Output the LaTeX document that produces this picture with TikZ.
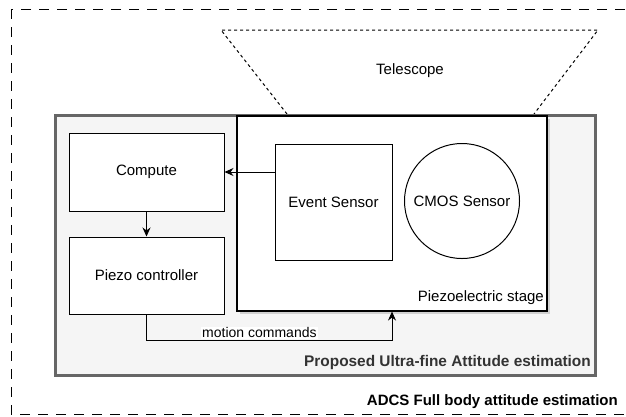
\documentclass[tikz,border=0pt]{standalone}
\usepackage{fontspec}
\setmainfont{Liberation Sans}
\usetikzlibrary{arrows.meta,shadows}
\definecolor{framegray}{HTML}{666666}
\definecolor{panelfill}{HTML}{F5F5F5}
\definecolor{titlegray}{HTML}{333333}

\begin{document}
\begin{tikzpicture}[x=1pt, y=-1pt, >={Stealth[length=9pt,width=8pt]}]
	\tikzstyle{every node} = [font=\fontsize{15}{18}\selectfont, inner sep=0pt]
	\tikzstyle{block}      = [rectangle, draw, line width=1pt, fill=white, minimum width=155pt, minimum height=78pt]
	\useasboundingbox (0,0) rectangle (626,416);
	\clip (0,0) rectangle (626,416);
	% outer ADCS frame, runs off the right edge
	\draw [line width=1pt, dash pattern=on 10pt off 8pt] (11,9) rectangle (660,414);
	\node (adcs) [anchor=east, font=\fontsize{15}{18}\selectfont\bfseries] at (618,402) {ADCS Full body attitude estimation};
	% telescope
	\coordinate (tbl) at (287,114);
	\coordinate (ttl) at (221,30);
	\coordinate (ttr) at (598,30);
	\coordinate (tbr) at (534,114);
	\draw [line width=1pt, dash pattern=on 3pt off 3pt] (tbl) -- (ttl) -- (ttr) -- (tbr);
	\node (tele) at (410,71) {Telescope};
	% proposed system
	\node (ultra) [rectangle, draw=framegray, line width=3pt, fill=panelfill, minimum width=540pt, minimum height=260pt] at (325.5,245.5) {};
	\node (ultralbl) [anchor=east, text=titlegray, font=\fontsize{15.4}{18}\selectfont\bfseries] at (591,363) {Proposed Ultra-fine Attitude estimation};
	\node (stage) [rectangle, draw, line width=1.1pt, fill=white, minimum width=310pt, minimum height=195pt,
		drop shadow={shadow xshift=3pt, shadow yshift=-3pt, fill=black!18, opacity=1}] at (392,213.5) {};
	\node (stagelbl) [anchor=east] at (544,298) {Piezoelectric stage};
	\node (event) [block, minimum width=117pt, minimum height=116pt] at (333.5,202) {Event Sensor};
	\node (cmos)  [circle, draw, line width=1pt, minimum size=115pt] at (462,201) {CMOS Sensor};
	\node (comp)  [block] at (146.5,172) {Compute};
	\node (piezo) [block, minimum height=77pt] at (146.5,275.5) {Piezo controller};
	\draw [->, line width=1pt] (event.west |- comp.east) -- (comp.east);
	\draw [->, line width=1pt] (comp) -- (piezo);
	\draw [->, line width=1pt] (piezo.south) -- ++(0,26) -| node [pos=0.23, above=1pt, fill=white, inner sep=1pt, font=\fontsize{14}{16}\selectfont] {motion commands} (stage.south);
\end{tikzpicture}
\end{document}
